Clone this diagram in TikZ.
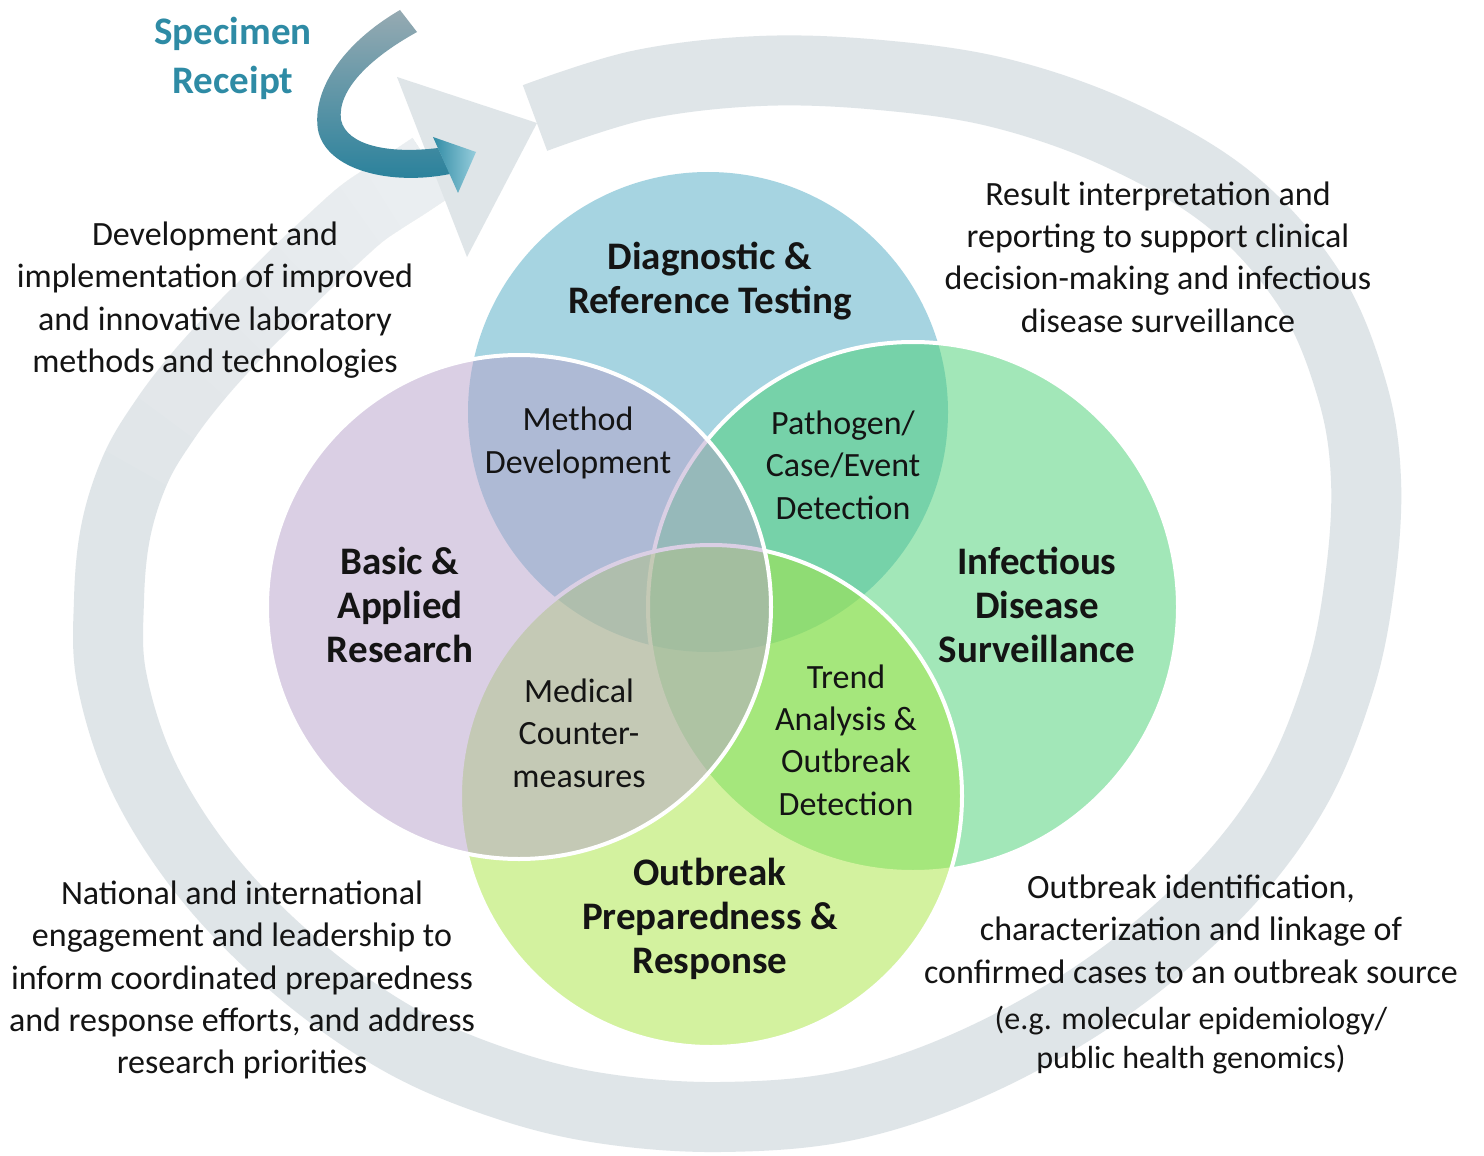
\documentclass[tikz,border=0pt]{standalone}
\usepackage{fontspec}
\setmainfont{Carlito}
\definecolor{ringgray}{RGB}{223,229,232}
\definecolor{cB}{RGB}{79,171,197}
\definecolor{cP}{RGB}{183,161,203}
\definecolor{cG}{RGB}{71,209,115}
\definecolor{cO}{RGB}{169,231,65}
\definecolor{specteal}{RGB}{46,139,165}
\definecolor{ribtop}{RGB}{150,170,178}
\definecolor{ribmid}{RGB}{95,150,168}
\definecolor{ribbot}{RGB}{38,128,155}
\definecolor{tipdark}{RGB}{50,140,165}
\definecolor{tiplight}{RGB}{150,205,220}
\definecolor{txt}{RGB}{20,20,20}
\tikzset{
  venn/.style={fill opacity=0.5, draw=white, line width=2pt},
  body/.style={align=center, text=txt, inner sep=0pt, font=\fontsize{17}{21.2}\selectfont},
  small/.style={align=center, text=txt, inner sep=0pt, font=\fontsize{16}{19.5}\selectfont},
  lbl/.style={align=center, text=txt, inner sep=0pt, font=\bfseries\fontsize{19.5}{22}\selectfont},
  ring/.style={draw=ringgray, line width=35pt, line cap=butt},
  fadeover/.style={draw=white, line width=38pt, line cap=butt, draw opacity=0.065},
}
\begin{document}
\begin{tikzpicture}[x=0.5pt,y=-0.5pt]
\useasboundingbox (0,0) rectangle (1484,1156);
\fill[white] (0,0) rectangle (1484,1156);

% big circular arrow (background)
\draw[ring] plot[smooth, tension=0.6] coordinates {(535,118) (640,85) (760,71) (880,75) (1000,93) (1120,135) (1230,200) (1310,290) (1352,390) (1366,480) (1360,580) (1340,680) (1295,790) (1220,890) (1110,985) (980,1060) (850,1105) (720,1117) (600,1108) (500,1083) (400,1040) (300,970) (210,880) (145,780) (112,680) (109,600) (116,530) (136,468) (166,418) (200,374) (240,330) (270,300) (300,270) (330,242) (360,215) (383,199) (405,185) (432,167)};
\foreach \s in {{(136,468) (166,418) (200,374) (240,330) (270,300) (300,270) (330,242) (360,215) (383,199) (405,185) (432,167)},
                {(166,418) (200,374) (240,330) (270,300) (300,270) (330,242) (360,215) (383,199) (405,185) (432,167)},
                {(200,374) (240,330) (270,300) (300,270) (330,242) (360,215) (383,199) (405,185) (432,167)},
                {(240,330) (270,300) (300,270) (330,242) (360,215) (383,199) (405,185) (432,167)},
                {(270,300) (300,270) (330,242) (360,215) (383,199) (405,185) (432,167)},
                {(300,270) (330,242) (360,215) (383,199) (405,185) (432,167)},
                {(330,242) (360,215) (383,199) (405,185) (432,167)},
                {(360,215) (383,199) (405,185) (432,167)},
                {(383,199) (405,185) (432,167)}}
  \draw[fadeover] plot[smooth, tension=0.6] coordinates \s;
\coordinate (headA) at (397,77);
\coordinate (headT) at (537,123);
\coordinate (headB) at (467,257);
\fill[ringgray] (headA) -- (headT) -- (headB) -- cycle;

% Venn circles
\fill[cB, fill opacity=0.5] (708,412) circle[radius=240];
\filldraw[venn, fill=cG] (913,607) circle[radius=265];
\filldraw[venn, fill=cO] (711,796) circle[radius=251];
\filldraw[venn, fill=cP] (519,607) circle[radius=252];

% specimen receipt arrow
\shade[top color=ribtop, middle color=ribmid, bottom color=ribbot]
  (400,10) .. controls (340,45) and (312,92) .. (318,130)
  .. controls (326,170) and (390,186) .. (450,174)
  -- (438,148) .. controls (390,154) and (347,146) .. (341,120)
  .. controls (337,90) and (370,58) .. (417,32) -- cycle;
\coordinate (sA) at (433,137);
\coordinate (sT) at (476,152);
\coordinate (sB) at (458,193);
\shade[left color=tipdark, right color=tiplight] (sA) -- (sT) -- (sB) -- cycle;

\node[align=center, inner sep=0pt, text=specteal, font=\bfseries\fontsize{19.5}{24.5}\selectfont] (spec) at (233,58) {Specimen\\Receipt};

% outer texts
\node[body] (tl) at (215,300) {Development and\\implementation of improved\\and innovative laboratory\\methods and technologies};
\node[body] (tr) at (1158,257) {Result interpretation and\\reporting to support clinical\\decision-making and infectious\\disease surveillance};
\node[body] (bl) at (242,980) {National and international\\engagement and leadership to\\inform coordinated preparedness\\and response efforts, and address\\research priorities};
\node[body] (br) at (1191,929) {Outbreak identification,\\characterization and linkage of\\confirmed cases to an outbreak source};
\node[small] (brs) at (1191,1040) {(e.g. molecular epidemiology/\\public health genomics)};

% circle labels
\node[lbl] (diag) at (710,281) {Diagnostic \&\\Reference Testing};
\node[lbl] (basic) at (400,605) {Basic \&\\Applied\\Research};
\node[lbl] (inf) at (1037,605) {Infectious\\Disease\\Surveillance};
\node[lbl] (outb) at (710,919) {Outbreak\\Preparedness \&\\Response};

% overlap labels
\node[body] (meth) at (578,443) {Method\\Development};
\node[body] (path) at (843,465) {Pathogen/\\Case/Event\\Detection};
\node[body] (med) at (579,733) {Medical\\Counter-\\measures};
\node[body] (trend) at (846,740) {Trend\\Analysis \&\\Outbreak\\Detection};
\end{tikzpicture}
\end{document}
